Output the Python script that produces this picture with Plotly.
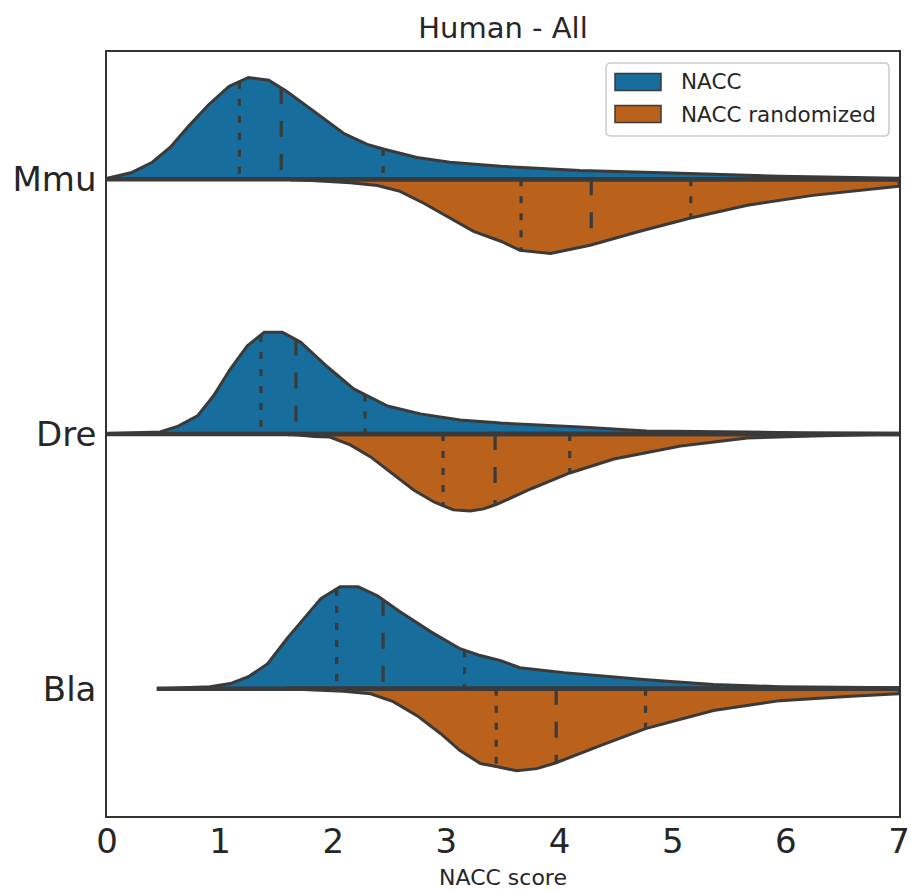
import numpy as np
import plotly.graph_objects as go

# ---------------- data ----------------
species = ["Mmu", "Dre", "Bla"]
series_names = ["NACC", "NACC randomized"]
x_tick_vals = [0, 1, 2, 3, 4, 5, 6, 7]

# Half-violin outlines: NACC score positions and kernel-density half widths
# (half widths are expressed in category units, max 0.4)
mmu_nacc_x = [0.0, 0.22, 0.40, 0.56, 0.72, 0.90, 1.08, 1.25, 1.43, 1.59, 1.83, 2.09,
              2.30, 2.45, 2.74, 3.03, 3.48, 4.18, 5.07, 5.95, 7.0]
mmu_nacc_w = [0.004, 0.027, 0.067, 0.126, 0.208, 0.294, 0.365, 0.400, 0.389, 0.345, 0.267,
              0.181, 0.137, 0.118, 0.086, 0.067, 0.051, 0.035, 0.024, 0.012, 0.004]
mmu_rand_x = [1.62, 1.90, 2.15, 2.39, 2.59, 2.80, 3.03, 3.24, 3.48, 3.65, 3.92, 4.27,
              4.71, 5.15, 5.66, 6.24, 7.0]
mmu_rand_w = [0.0, 0.006, 0.013, 0.024, 0.047, 0.094, 0.153, 0.204, 0.243, 0.279, 0.291,
              0.259, 0.204, 0.153, 0.102, 0.063, 0.027]

dre_nacc_x = [0.0, 0.47, 0.63, 0.80, 0.94, 1.09, 1.24, 1.39, 1.55, 1.71, 1.95, 2.18,
              2.48, 2.77, 3.12, 3.48, 4.18, 4.77, 5.66, 6.24, 7.0]
dre_nacc_w = [0.002, 0.008, 0.031, 0.071, 0.149, 0.255, 0.346, 0.400, 0.400, 0.361, 0.263,
              0.177, 0.110, 0.079, 0.055, 0.043, 0.027, 0.012, 0.008, 0.004, 0.002]
dre_rand_x = [1.60, 1.83, 1.97, 2.15, 2.33, 2.50, 2.71, 2.89, 3.06, 3.21, 3.33, 3.45,
              3.75, 4.09, 4.48, 5.07, 5.66, 6.24, 7.0]
dre_rand_w = [0.0, 0.010, 0.012, 0.043, 0.090, 0.149, 0.220, 0.267, 0.298, 0.302, 0.294,
              0.275, 0.215, 0.153, 0.098, 0.047, 0.016, 0.008, 0.002]

bla_nacc_x = [0.44, 0.91, 1.09, 1.25, 1.42, 1.59, 1.74, 1.89, 2.06, 2.22, 2.39, 2.59,
              2.86, 3.12, 3.30, 3.48, 3.65, 4.04, 4.77, 5.36, 5.95, 7.0]
bla_nacc_w = [0.0, 0.008, 0.020, 0.047, 0.098, 0.196, 0.275, 0.353, 0.400, 0.400, 0.365,
              0.302, 0.224, 0.157, 0.130, 0.110, 0.082, 0.063, 0.035, 0.016, 0.008, 0.004]
bla_rand_x = [1.58, 2.09, 2.33, 2.53, 2.74, 2.95, 3.12, 3.30, 3.44, 3.62, 3.80, 3.97,
              4.36, 4.76, 5.36, 5.95, 6.54, 7.0]
bla_rand_w = [0.0, 0.010, 0.020, 0.051, 0.106, 0.177, 0.243, 0.294, 0.306, 0.322, 0.314,
              0.291, 0.224, 0.157, 0.086, 0.047, 0.031, 0.020]

# Quartiles (Q1, median, Q3)
mmu_nacc_q = [1.17, 1.54, 2.44]
mmu_rand_q = [3.66, 4.28, 5.16]
dre_nacc_q = [1.36, 1.67, 2.28]
dre_rand_q = [2.97, 3.43, 4.09]
bla_nacc_q = [2.03, 2.44, 3.16]
bla_rand_q = [3.44, 3.97, 4.76]

# ---------------- styling ----------------
FONT = "DejaVu Sans"
TXT = "#262626"
EDGE = "#3a3a3a"
colors = ["#176d9c", "#ba611b"]

W, H = 911, 890
ML, MR, MT, MB = 107, 12, 52, 74

violins = [
    (0, [(mmu_nacc_x, mmu_nacc_w, mmu_nacc_q), (mmu_rand_x, mmu_rand_w, mmu_rand_q)]),
    (1, [(dre_nacc_x, dre_nacc_w, dre_nacc_q), (dre_rand_x, dre_rand_w, dre_rand_q)]),
    (2, [(bla_nacc_x, bla_nacc_w, bla_nacc_q), (bla_rand_x, bla_rand_w, bla_rand_q)]),
]

fig = go.Figure()
for pos, halves in violins:
    for side, (xs, ws, qs) in enumerate(halves):
        sign = -1 if side == 0 else 1   # NACC above, randomized below
        xs = np.asarray(xs, float)
        ws = np.asarray(ws, float)
        px = list(xs) + [xs[-1], xs[0], xs[0]]
        py = list(pos + sign * ws) + [pos, pos, pos + sign * ws[0]]
        fig.add_trace(go.Scatter(
            x=px, y=py, mode="lines", fill="toself", fillcolor=colors[side],
            line=dict(color=EDGE, width=3), name=series_names[side],
            showlegend=False, hoverinfo="skip"))
    # flat (split) edges of both halves, drawn on top
    for side, (xs, ws, qs) in enumerate(halves):
        fig.add_trace(go.Scatter(
            x=[xs[0], xs[-1]], y=[pos, pos], mode="lines",
            line=dict(color=EDGE, width=4.5), showlegend=False, hoverinfo="skip"))
    for side, (xs, ws, qs) in enumerate(halves):
        xs = np.asarray(xs, float)
        ws = np.asarray(ws, float)
        for k, q in enumerate(qs):
            h = float(np.interp(q, xs, ws))
            dash = "16px,17px" if k == 1 else "7px,10px"
            ly = [pos - h, pos] if side == 0 else [pos, pos + h]
            fig.add_trace(go.Scatter(
                x=[q, q], y=ly, mode="lines",
                line=dict(color=EDGE, width=3.2, dash=dash),
                showlegend=False, hoverinfo="skip"))

# ---------------- manual legend (matplotlib-style) ----------------
pw = W - ML - MR
ph = H - MT - MB


def fx(p):
    return (p - ML) / pw


def fy(p):
    return 1 - (p - MT) / ph


shapes = []
x0, x1, y0, y1, r = 606, 889, 63, 136, 5
path = (f"M {fx(x0 + r)},{fy(y0)} L {fx(x1 - r)},{fy(y0)} "
        f"Q {fx(x1)},{fy(y0)} {fx(x1)},{fy(y0 + r)} L {fx(x1)},{fy(y1 - r)} "
        f"Q {fx(x1)},{fy(y1)} {fx(x1 - r)},{fy(y1)} L {fx(x0 + r)},{fy(y1)} "
        f"Q {fx(x0)},{fy(y1)} {fx(x0)},{fy(y1 - r)} L {fx(x0)},{fy(y0 + r)} "
        f"Q {fx(x0)},{fy(y0)} {fx(x0 + r)},{fy(y0)} Z")
shapes.append(dict(type="path", xref="paper", yref="paper", path=path,
                   fillcolor="rgba(255,255,255,0.85)", line=dict(color="#cccccc", width=1.5)))
annotations = []
for i, name in enumerate(series_names):
    cy = 82 + 32 * i
    shapes.append(dict(type="rect", xref="paper", yref="paper",
                       x0=fx(615), x1=fx(661), y0=fy(cy - 8.5), y1=fy(cy + 8.5),
                       fillcolor=colors[i], line=dict(color=EDGE, width=1.5)))
    annotations.append(dict(xref="paper", yref="paper", x=fx(679), y=fy(cy),
                            xanchor="left", yanchor="middle", text=name, showarrow=False,
                            font=dict(family=FONT, size=21.5, color=TXT)))

fig.update_layout(
    width=W, height=H,
    margin=dict(l=ML, r=MR, t=MT, b=MB),
    paper_bgcolor="white", plot_bgcolor="white",
    title=dict(text="Human - All", x=0.5, xref="paper", y=1 - 28 / H, yref="container",
               xanchor="center", yanchor="middle",
               font=dict(family=FONT, size=29, color=TXT)),
    shapes=shapes, annotations=annotations,
    showlegend=False,
    xaxis=dict(range=[0, 7], tickvals=x_tick_vals, ticktext=[str(v) for v in x_tick_vals],
               showgrid=False, zeroline=False, ticks="", automargin=False,
               showline=True, mirror=True, linecolor="#333333", linewidth=1.5,
               ticklabelstandoff=-6,
               tickfont=dict(family=FONT, size=34, color=TXT),
               title=dict(text="NACC score", standoff=12,
                          font=dict(family=FONT, size=22, color=TXT))),
    yaxis=dict(range=[2.5, -0.5], tickvals=[0, 1, 2], ticktext=species,
               showgrid=False, zeroline=False, ticks="", automargin=False,
               showline=True, mirror=True, linecolor="#333333", linewidth=1.5,
               ticklabelstandoff=2,
               tickfont=dict(family=FONT, size=34, color=TXT)),
)

fig.write_html("out.html")
